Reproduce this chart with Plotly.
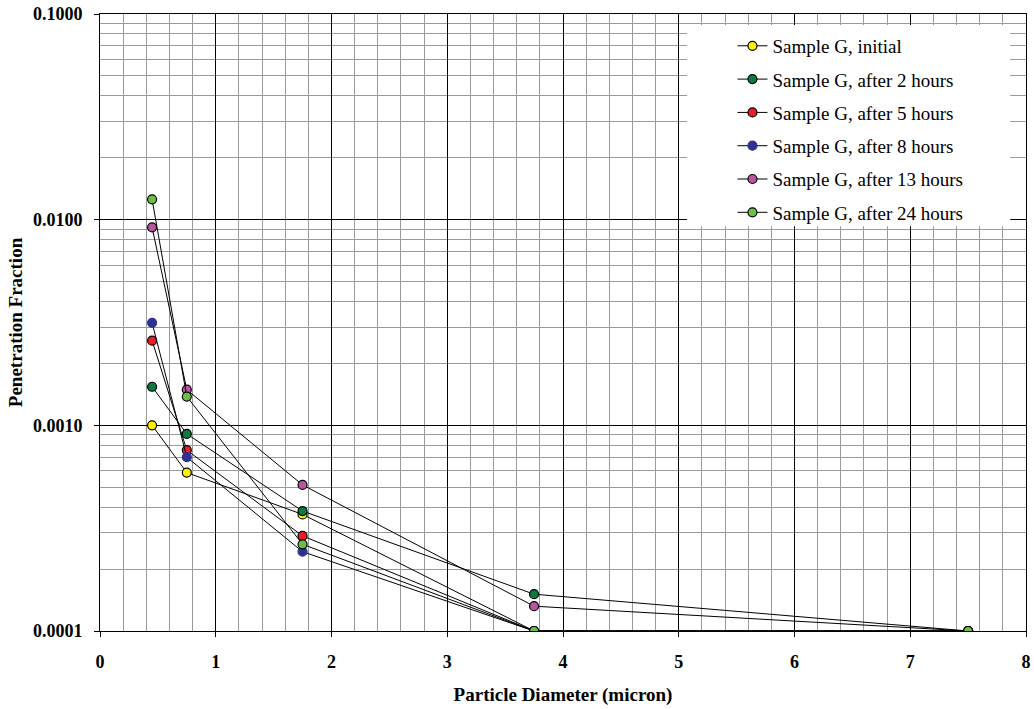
import plotly.graph_objects as go

# Particle diameters (micron) at which penetration was measured
diameters = [0.45, 0.75, 1.75, 3.75, 7.5]

series_names = [
    "Sample G, initial",
    "Sample G, after 2 hours",
    "Sample G, after 5 hours",
    "Sample G, after 8 hours",
    "Sample G, after 13 hours",
    "Sample G, after 24 hours",
]

pen_initial = [0.00100, 0.000589, 0.000369, 0.0001, 0.0001]
pen_2h = [0.00154, 0.000908, 0.000383, 0.000151, 0.0001]
pen_5h = [0.00258, 0.000757, 0.000290, 0.0001, 0.0001]
pen_8h = [0.00315, 0.000700, 0.000243, 0.0001, 0.0001]
pen_13h = [0.00918, 0.00149, 0.000513, 0.000132, 0.0001]
pen_24h = [0.01256, 0.00138, 0.000264, 0.0001, 0.0001]

series_values = [pen_initial, pen_2h, pen_5h, pen_8h, pen_13h, pen_24h]
marker_colors = ["#FFF200", "#0B7A3E", "#ED1C24", "#2E3192", "#B8559E", "#6DBE45"]
marker_edges = ["#000000", "#000000", "#000000", "#2E3192", "#000000", "#000000"]

y_tick_vals = [0.0001, 0.001, 0.01, 0.1]
y_tick_text = ["0.0001", "0.0010", "0.0100", "0.1000"]

FONT = "Liberation Serif, Times New Roman, DejaVu Serif, serif"

fig = go.Figure()
for i, (name, vals) in enumerate(zip(series_names, series_values)):
    fig.add_trace(go.Scatter(
        x=diameters, y=vals, name=name, mode="lines+markers",
        legendgroup=f"g{i}",
        line=dict(color="black", width=1),
        marker=dict(size=9, color=marker_colors[i],
                    line=dict(color=marker_edges[i], width=1.2)),
    ))

# minor gridlines for each decade on the log axis
minor_y = [k * 10.0 ** e for e in range(-4, -1) for k in range(2, 10)]

fig.update_xaxes(
    range=[0, 8], dtick=1, tick0=0,
    showgrid=True, gridcolor="black", gridwidth=1,
    minor=dict(dtick=0.2, showgrid=True, gridcolor="#9a9a9a", gridwidth=1),
    showline=True, linecolor="black", linewidth=1, mirror=True,
    ticks="outside", ticklen=5, tickcolor="black",
    ticklabelstandoff=9, automargin=False,
    tickfont=dict(family=FONT, size=18, color="black", weight="bold"),
    title=dict(text="Particle Diameter (micron)",
               font=dict(family=FONT, size=19, color="black", weight="bold"),
               standoff=17),
    zeroline=False,
)
fig.update_yaxes(
    type="log", range=[-4, -1],
    tickmode="array", tickvals=y_tick_vals, ticktext=y_tick_text,
    showgrid=True, gridcolor="black", gridwidth=1,
    minor=dict(tickmode="array", tickvals=minor_y, showgrid=True,
               gridcolor="#9a9a9a", gridwidth=1),
    showline=True, linecolor="black", linewidth=1, mirror=True,
    ticks="outside", ticklen=5, tickcolor="black",
    ticklabelstandoff=8, automargin=False,
    tickfont=dict(family=FONT, size=18, color="black", weight="bold"),
    title=dict(text="Penetration Fraction",
               font=dict(family=FONT, size=19, color="black", weight="bold"),
               standoff=5),
    zeroline=False,
)

# white panel behind the legend
fig.add_shape(type="rect", xref="paper", yref="paper",
              x0=0.634, x1=0.983, y0=0.656, y1=0.982,
              fillcolor="white", line=dict(width=0), layer="above")

fig.update_layout(
    width=1034, height=709,
    margin=dict(l=100, r=8, t=14, b=78),
    plot_bgcolor="white", paper_bgcolor="white",
    font=dict(family=FONT, color="black"),
    showlegend=True,
    legend=dict(
        x=0.683, y=0.979, xanchor="left", yanchor="top",
        bgcolor="rgba(0,0,0,0)", borderwidth=0,
        font=dict(family=FONT, size=19, color="black"),
        tracegroupgap=5.6, traceorder="grouped",
    ),
)

fig.write_html("out.html")
